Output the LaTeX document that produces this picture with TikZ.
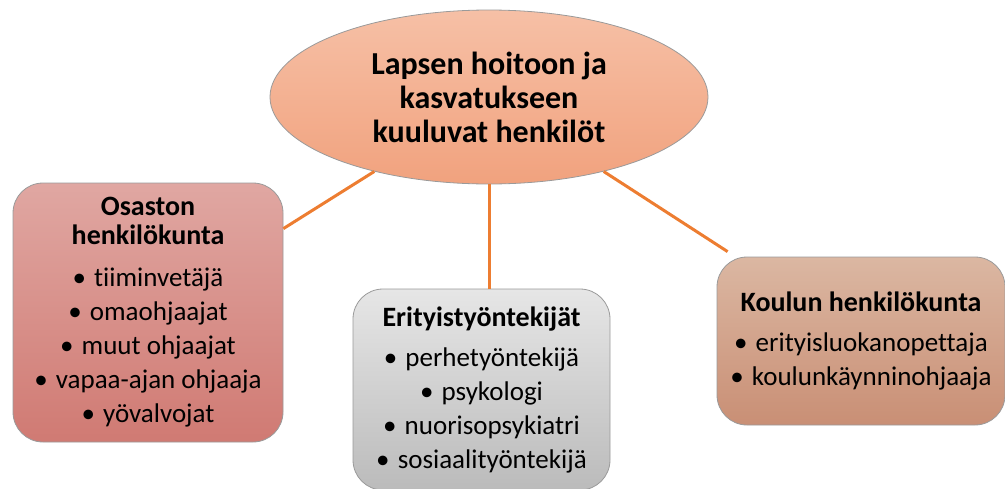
\documentclass[tikz,border=0pt]{standalone}
\usepackage{fontspec}
\setmainfont[Ligatures={NoCommon}]{Carlito}
\usetikzlibrary{shapes.geometric,calc}
\definecolor{ellT}{HTML}{F6C0A6}
\definecolor{ellB}{HTML}{F1A27E}
\definecolor{redT}{HTML}{E0A7A2}
\definecolor{redB}{HTML}{D07A73}
\definecolor{grT}{HTML}{E6E6E6}
\definecolor{grB}{HTML}{BBBBBB}
\definecolor{brT}{HTML}{DBB7A2}
\definecolor{brB}{HTML}{C98F75}
\definecolor{conn}{HTML}{ED7D31}
\definecolor{edge}{HTML}{9A9A9A}
\newcommand{\bul}{•\hspace{0.3em}}
\newcommand{\hd}[1]{{\bfseries\fontsize{28}{34}\selectfont #1}}
\tikzset{
  box/.style={draw=edge, line width=0.8pt, rounded corners=30pt, align=center, inner sep=0pt, font=\fontsize{27}{34}\selectfont},
  connector/.style={draw=conn, line width=3pt},
}
\begin{document}
\begin{tikzpicture}[x=1pt,y=-1pt]
\useasboundingbox (0,0) rectangle (1005,488);
\node[ellipse, draw=edge, line width=0.8pt, top color=ellT, bottom color=ellB, minimum width=438pt, minimum height=174pt, inner sep=0pt, align=center, font=\bfseries\fontsize{32}{34}\selectfont] (ell) at (489,97) {Lapsen hoitoon ja\\kasvatukseen\\kuuluvat henkilöt};
\node[box, top color=redT, bottom color=redB, minimum width=270pt, minimum height=259pt] (lb) at (148,312.5)
 {\hd{Osaston}\\[-5pt]\hd{henkilökunta}\\[8pt]\bul tiiminvetäjä\\\bul omaohjaajat\\\bul muut ohjaajat\\\bul vapaa-ajan ohjaaja\\\bul yövalvojat};
\node[box, top color=grT, bottom color=grB, minimum width=257pt, minimum height=201pt] (mb) at (481.5,389.5)
 {\hd{Erityistyöntekijät}\\[6pt]\bul perhetyöntekijä\\\bul psykologi\\\bul nuorisopsykiatri\\\bul sosiaalityöntekijä};
\node[box, top color=brT, bottom color=brB, minimum width=288pt, minimum height=168pt] (rb) at (861,341)
 {\hd{Koulun henkilökunta}\\[6pt]\bul erityisluokanopettaja\\\bul koulunkäynninohjaaja};
\coordinate (rend) at ([xshift=11pt,yshift=5pt]rb.north west);
\coordinate (lend) at ([yshift=-46pt]lb.north east);
\draw[connector] (ell.213) -- (lend);
\draw[connector] (ell.south) -- (ell.south |- mb.north);
\draw[connector] (ell.327) -- (rend);
\end{tikzpicture}
\end{document}
